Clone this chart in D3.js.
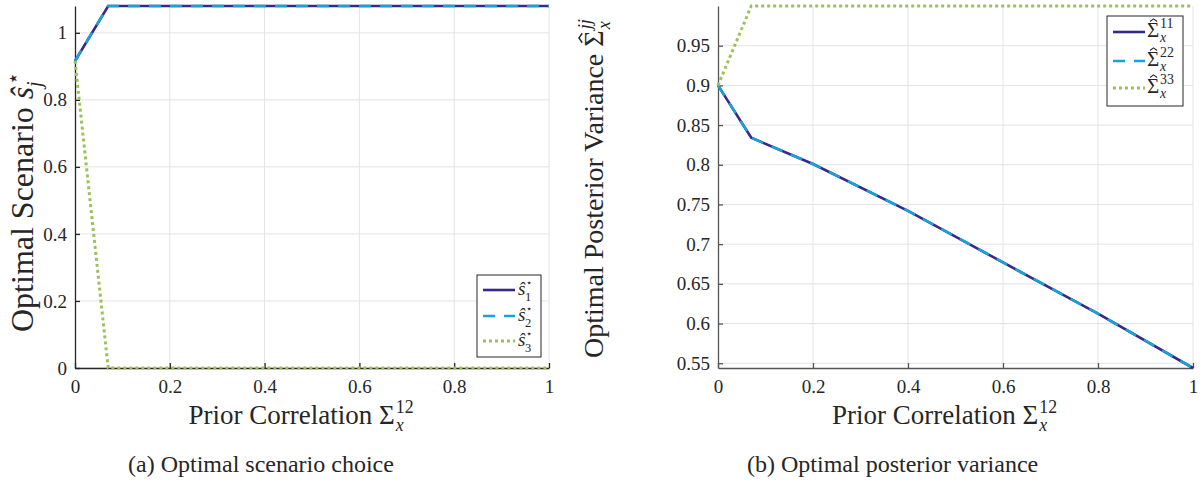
<!DOCTYPE html>
<meta charset="utf-8">
<style>
  body { margin: 0; background: #fff; }
  .grid line { stroke: #e3e3e3; stroke-width: 1; }
</style>
<body>
<svg id="fig" width="1203" height="482" style="font-family: 'Liberation Serif', serif"></svg>
<script src="https://cdn.jsdelivr.net/npm/d3@7/dist/d3.min.js"></script>
<script>

  // panel (a): optimal scenario choice
  const corrA = [0, 0.07, 1];
  const s1 = [0.916, 1.08, 1.08];
  const s2 = [0.916, 1.08, 1.08];
  const s3 = [0.916, 0, 0];
  const ticksA = [0, 0.2, 0.4, 0.6, 0.8, 1];

  // panel (b): optimal posterior variance
  const corrB = [0, 0.07, 0.2, 0.4, 0.6, 0.8, 1];
  const v11 = [0.9, 0.834, 0.801, 0.742, 0.677, 0.6125, 0.544];
  const v22 = [0.9, 0.834, 0.801, 0.742, 0.677, 0.6125, 0.544];
  const v33 = [0.9, 1.0, 1.0, 1.0, 1.0, 1.0, 1.0];
  const ticksB = [0.55, 0.6, 0.65, 0.7, 0.75, 0.8, 0.85, 0.9, 0.95];

  const xTicks = [0, 0.2, 0.4, 0.6, 0.8, 1];

  const colors = ["#352a87", "#1ba0d8", "#9cc05a"];
  const dashes = [null, "12,9", "3,3"];
  const FONT = "'Liberation Serif', serif";
  const INK = "#262626";

  const svg = d3.select("#fig");

  // writes "prefix base^sup_sub" into g starting at (0,0) baseline; returns width
  function mathText(g, m, size, up = 0.42, down = 0.26) {
    const small = size * 0.66;
    const txt = (x, y, s, fs, italic) => g.append("text")
      .attr("x", x).attr("y", y).attr("font-size", fs)
      .style("font-family", FONT).style("font-style", italic ? "italic" : "normal")
      .attr("fill", INK).text(s);
    let w = 0;
    if (m.prefix) {
      w = txt(0, 0, m.prefix, size, false).node().getComputedTextLength() + size * 0.25;
    }
    const b = txt(w, 0, m.base, size, m.italic);
    const wb = b.node().getComputedTextLength();
    if (m.hat) {
      const cx = w + wb / 2 + size * 0.02;
      g.append("path")
        .attr("d", `M${cx - size * 0.17},${-size * 0.74}L${cx},${-size * 0.86}L${cx + size * 0.17},${-size * 0.74}`)
        .attr("fill", "none").attr("stroke", INK).attr("stroke-width", size * 0.05);
    }
    const x0 = w + wb + size * 0.04;
    const sup = txt(x0, -size * up, m.sup, size * (m.supScale || 0.66), m.supItalic);
    const sub = txt(x0 - (m.italic ? size * 0.06 : 0), size * down, m.sub, small, m.subItalic);
    return x0 + Math.max(sup.node().getComputedTextLength(), sub.node().getComputedTextLength());
  }

  function panel(opt) {
    const x = d3.scaleLinear().domain([0, 1]).range([opt.left, opt.right]);
    const y = d3.scaleLinear().domain(opt.yDomain).range([368, 6]);
    const g = svg.append("g");

    // grid
    const grid = g.append("g").attr("class", "grid");
    grid.selectAll(".gx").data(xTicks.slice(1)).join("line")
      .attr("x1", d => x(d)).attr("x2", d => x(d))
      .attr("y1", y.range()[0]).attr("y2", y.range()[1]);
    grid.selectAll(".gy").data(opt.yTicks).join("line")
      .attr("x1", x(0)).attr("x2", x(1))
      .attr("y1", d => y(d)).attr("y2", d => y(d));

    // axes
    const fmt = d => String(+d.toFixed(2));
    const ax = g.append("g")
      .attr("transform", `translate(0,${y.range()[0]})`)
      .call(d3.axisBottom(x).tickValues(xTicks).tickFormat(fmt).tickSizeInner(-5).tickSizeOuter(0).tickPadding(12));
    const ay = g.append("g")
      .attr("transform", `translate(${x(0)},0)`)
      .call(d3.axisLeft(y).tickValues(opt.yTicks).tickFormat(fmt).tickSizeInner(-5).tickSizeOuter(0).tickPadding(8));
    [ax, ay].forEach(a => {
      a.attr("font-family", null);
      a.select(".domain").attr("stroke", opt.axisColor).attr("stroke-width", 1.3);
      a.selectAll(".tick line").attr("stroke", opt.axisColor).attr("stroke-width", 1.3);
      a.selectAll(".tick text").attr("font-size", 19).attr("fill", INK).style("font-family", FONT);
    });

    // lines
    const clipId = "clip" + opt.id;
    svg.append("clipPath").attr("id", clipId).append("rect")
      .attr("x", x(0) - 2).attr("y", 3).attr("width", x(1) - x(0) + 4).attr("height", 368);
    const line = d3.line().x(d => x(d[0])).y(d => y(d[1]));
    opt.series.forEach((s, i) => {
      g.append("path")
        .datum(opt.xs.map((v, k) => [v, s[k]]))
        .attr("clip-path", `url(#${clipId})`)
        .attr("fill", "none")
        .attr("stroke", colors[i])
        .attr("stroke-width", i === 2 ? 3 : 2.6)
        .attr("stroke-dasharray", dashes[i])
        .attr("d", line);
    });

    // x label
    const xl = g.append("g");
    const xw = mathText(xl, {prefix: "Prior Correlation", base: "Σ", sup: "12", sub: "x", subItalic: true}, 27);
    xl.attr("transform", `translate(${(x(0) + x(1)) / 2 - xw / 2 - 11},424)`);

    // y label
    const yl = g.append("g")
      .attr("transform", `translate(${opt.yLabelX},${opt.yLabelY}) rotate(-90)`);
    mathText(yl, opt.yLabel, opt.yLabelSize);

    // legend
    const lg = g.append("g").attr("transform", `translate(${opt.legend.x},${opt.legend.y})`);
    lg.append("rect").attr("width", opt.legend.w).attr("height", opt.legend.h)
      .attr("fill", "#fff").attr("stroke", INK).attr("stroke-width", 1);
    opt.series.forEach((s, i) => {
      const cy = opt.legend.rows[i];
      lg.append("line").attr("x1", 6).attr("x2", 38).attr("y1", cy).attr("y2", cy)
        .attr("stroke", colors[i]).attr("stroke-width", i === 2 ? 3 : 2.6)
        .attr("stroke-dasharray", dashes[i]);
      const lt = lg.append("g").attr("transform", `translate(${opt.legend.tx},${cy + 5})`);
      mathText(lt, opt.legendLabel(i), opt.legend.size, opt.legend.up, opt.legend.down);
    });

    // caption
    g.append("text").attr("x", opt.captionX).attr("y", 472)
      .attr("font-size", 24).attr("fill", INK).style("font-family", FONT).text(opt.caption);
  }

  panel({
    id: "a", left: 75, right: 549, yDomain: [0, 1.08], yTicks: ticksA, axisColor: INK,
    xs: corrA, series: [s1, s2, s3],
    yLabelX: 33, yLabelY: 332, yLabelSize: 32,
    yLabel: {prefix: "Optimal Scenario", base: "ŝ", italic: true, sup: "⋆", sub: "j", subItalic: true},
    legend: {x: 477, y: 275, w: 64, h: 82, rows: [15, 41, 66], tx: 41, size: 19, up: 0.46, down: 0.3},
    legendLabel: i => ({base: "ŝ", italic: true, sup: "⋆", supScale: 0.5, sub: String(i + 1)}),
    caption: "(a) Optimal scenario choice", captionX: 128
  });

  panel({
    id: "b", left: 718, right: 1193, yDomain: [0.544, 1.0], yTicks: ticksB, axisColor: "#555",
    xs: corrB, series: [v11, v22, v33],
    yLabelX: 603, yLabelY: 358, yLabelSize: 28,
    yLabel: {prefix: "Optimal Posterior Variance", base: "Σ", hat: true, sup: "jj", supItalic: true, sub: "x", subItalic: true},
    legend: {x: 1107, y: 16, w: 76, h: 90, rows: [16, 45, 72], tx: 40, size: 21, up: 0.42, down: 0.26},
    legendLabel: i => ({base: "Σ", hat: true, sup: String(i + 1) + String(i + 1), sub: "x", subItalic: true}),
    caption: "(b) Optimal posterior variance", captionX: 747
  });

</script>
</body>
